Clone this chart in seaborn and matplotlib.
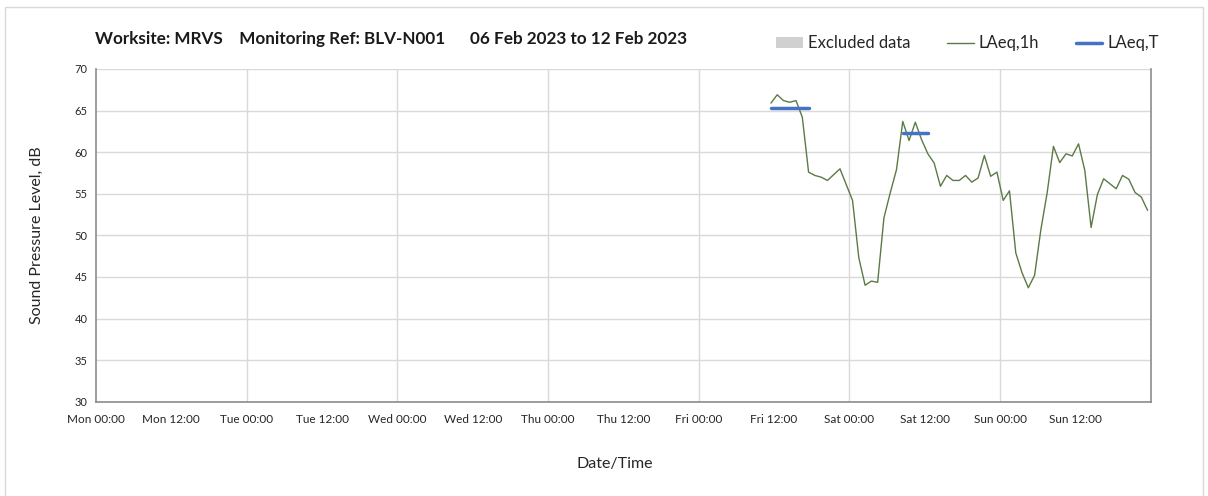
import matplotlib
matplotlib.use("Agg")
import matplotlib.pyplot as plt
from matplotlib.patches import Patch, Rectangle
from matplotlib.lines import Line2D
import pandas as pd
import seaborn as sns

# hourly LAeq,1h values (first reading Fri 10 Feb 11:30)
first_reading = "2023-02-10 11:30"
laeq_1h = [65.9, 66.9, 66.2, 66.0, 66.2, 64.2, 57.6, 57.2, 57.0, 56.6,
           57.3, 58.0, 56.1, 54.2, 47.3, 44.0, 44.5, 44.35, 52.1, 55.1,
           57.9, 63.7, 61.4, 63.6, 61.5, 59.8, 58.7, 55.9, 57.2, 56.6,
           56.6, 57.2, 56.4, 56.9, 59.6, 57.1, 57.6, 54.2, 55.35, 47.9,
           45.5, 43.7, 45.2, 50.7, 55.1, 60.7, 58.75, 59.8, 59.55, 61.0,
           57.8, 50.95, 54.9, 56.8, 56.2, 55.6, 57.2, 56.75, 55.15, 54.6,
           53.0]

# LAeq,T periods
period_start = ["2023-02-10 11:30", "2023-02-11 08:30"]
period_end = ["2023-02-10 17:30", "2023-02-11 12:30"]
laeq_t = [65.3, 62.3]

week_start = pd.Timestamp("2023-02-06 00:00")
week_end = pd.Timestamp("2023-02-13 00:00")

title = "Worksite: MRVS    Monitoring Ref: BLV-N001      06 Feb 2023 to 12 Feb 2023"

df = pd.DataFrame({
    "time": pd.date_range(first_reading, periods=len(laeq_1h), freq="h"),
    "level": laeq_1h,
})
seg = pd.DataFrame({
    "time": pd.to_datetime(period_start + period_end),
    "level": laeq_t + laeq_t,
    "period": [0, 1, 0, 1],
})

sns.set_style("white")
plt.rcParams["font.family"] = ["Lato", "DejaVu Sans"]

green = "#5b7a45"
blue = "#4472c4"
grid_col = "#d9d9d9"
spine_col = "#8c8c8c"

fig = plt.figure(figsize=(12.08, 4.96), dpi=100)
ax = fig.add_axes([0.0795, 0.1901, 0.9526 - 0.0795, 0.8609 - 0.1901])

sns.lineplot(data=df, x="time", y="level", color=green, lw=1.0, ax=ax)
sns.lineplot(data=seg, x="time", y="level", units="period", estimator=None,
             color=blue, lw=2.5, ax=ax)

ax.set_xlim(week_start, week_end)
ax.set_ylim(30, 70)
ax.set_yticks(range(30, 71, 5))
ticks = pd.date_range(week_start, week_end, freq="12h")
ax.set_xticks(ticks)
ax.set_xticklabels([t.strftime("%a %H:%M") for t in ticks[:-1]] + [""])

# horizontal gridlines every 5 dB, vertical only at midnight
ax.yaxis.grid(True, color=grid_col, lw=1)
for d in pd.date_range(week_start, week_end, freq="D")[1:-1]:
    ax.axvline(d, color=grid_col, lw=1, zorder=0)

for side in ["left", "bottom", "right"]:
    ax.spines[side].set_color(spine_col)
    ax.spines[side].set_linewidth(1.2)
ax.spines["top"].set_visible(False)

ax.tick_params(axis="both", direction="out", length=4, color=spine_col,
               labelsize=8.5, labelcolor="#262626", pad=2)
ax.tick_params(axis="x", pad=5)
ax.tick_params(axis="y", labelsize=8)

ax.set_xlabel("Date/Time", fontsize=11.5, color="#262626")
ax.xaxis.set_label_coords(0.4915, -0.165)
ax.set_ylabel("Sound Pressure Level, dB", fontsize=11.5, color="#262626",
              labelpad=22)

fig.text(0.0786, 0.921, title, fontsize=12.3, fontweight="bold",
         color="#1a1a1a", va="center", ha="left")

handles = [Patch(facecolor="#d0d0d0", edgecolor="none"),
           Line2D([], [], color=green, lw=1.0),
           Line2D([], [], color=blue, lw=2.5)]
fig.legend(handles, ["Excluded data", "LAeq,1h", "LAeq,T"], ncol=3,
           loc="center left", bbox_to_anchor=(0.630, 0.913), frameon=False,
           fontsize=12, handlelength=1.6, handleheight=0.6,
           handletextpad=0.3, columnspacing=2.2, labelcolor="#262626")

# light outer frame around the chart
fig.patches.append(Rectangle((5 / 1208, -0.05), 1198 / 1208, 1.05 - 7 / 496,
                             transform=fig.transFigure, fill=False,
                             edgecolor="#d9d9d9", lw=1))

fig.savefig("out.png", dpi=100)
